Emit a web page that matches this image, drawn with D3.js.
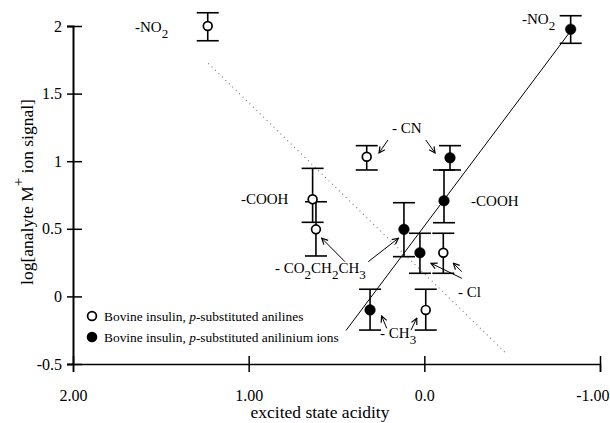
<!DOCTYPE html>
<html><head><meta charset="utf-8">
<script src="https://cdn.jsdelivr.net/npm/d3@7/dist/d3.min.js"></script>
<style>body{margin:0;background:#fff}svg{display:block}text{font-family:"Liberation Serif","Times New Roman",serif;fill:#000}</style>
</head><body>
<script>
// ---- data ----
const xTicks = [2, 1, 0, -1];
const xTickLabels = ["2.00", "1.00", "0.0", "-1.00"];
const yTicks = [2, 1.5, 1, 0.5, 0, -0.5];
const yTickLabels = ["2", "1.5", "1", "0.5", "0", "-0.5"];

const substituents = ["-NO2", "-CN", "-COOH", "-CO2CH2CH3", "-Cl", "-CH3"];
// Bovine insulin, p-substituted anilines (open circles)
const openX  = [1.233, 0.328, 0.636, 0.617, -0.108, -0.008];
const openY  = [2.000, 1.033, 0.718, 0.496, 0.323, -0.100];
const openHi = [2.098, 1.115, 0.947, 0.700, 0.467, 0.053];
const openLo = [1.891, 0.935, 0.548, 0.299, 0.171, -0.249];
// Bovine insulin, p-substituted anilinium ions (filled circles)
const fillX  = [-0.833, -0.146, -0.112, 0.116, 0.025, 0.309];
const fillY  = [1.976, 1.025, 0.708, 0.496, 0.323, -0.100];
const fillHi = [2.076, 1.115, 0.935, 0.693, 0.467, 0.053];
const fillLo = [1.872, 0.935, 0.545, 0.294, 0.171, -0.249];

const fitSolid  = [[0.446, -0.252], [-0.830, 1.958]];
const fitDotted = [[1.230, 1.724], [-0.459, -0.413]];

const legendLabels = ["Bovine insulin, ", "p", "-substituted anilines", "-substituted anilinium ions"];

// annotation labels: [x, y, parts] parts = [text, isSub]
const labels = [
  [1.647, 1.956, [["-NO", 0], ["2", 1]]],
  [-0.556, 2.015, [["-NO", 0], ["2", 1]]],
  [0.184, 1.209, [["- CN", 0]]],
  [1.044, 0.683, [["-COOH", 0]]],
  [-0.266, 0.669, [["-COOH", 0]]],
  [0.850, 0.173, [["- CO", 0], ["2", 1], ["CH", 0], ["2", 1], ["CH", 0], ["3", 1]]],
  [-0.192, -0.004, [["- Cl", 0]]],
  [0.252, -0.308, [["- CH", 0], ["3", 1]]]
];
// arrows: [x1, y1, x2, y2] in data units (tail -> head)
const arrows = [
  [0.207, 1.157, 0.258, 1.061],
  [-0.008, 1.157, -0.061, 1.061],
  [0.452, 0.257, 0.584, 0.430],
  [0.319, 0.257, 0.148, 0.430],
  [-0.213, 0.134, -0.038, 0.245],
  [-0.213, 0.183, -0.165, 0.245],
  [0.214, -0.236, 0.243, -0.145],
  [0.076, -0.249, 0.043, -0.162]
];

// ---- chart ----
const W = 610, H = 423;
const svg = d3.select("body").append("svg").attr("width", W).attr("height", H);
const x = d3.scaleLinear().domain([2, -1]).range([73, 600]);
const y = d3.scaleLinear().domain([-0.5, 2]).range([364, 26]);

svg.append("defs").append("marker")
  .attr("id", "ah").attr("viewBox", "0 0 8 8").attr("refX", 7).attr("refY", 4)
  .attr("markerWidth", 8).attr("markerHeight", 8).attr("markerUnits", "userSpaceOnUse")
  .attr("orient", "auto")
  .append("path").attr("d", "M1,1 L7,4 L1,7").attr("fill", "none").attr("stroke", "#000").attr("stroke-width", 1.2);

// axes
const yAxis = svg.append("g").attr("transform", `translate(${x(2)},0)`)
  .call(d3.axisLeft(y).tickValues(yTicks).tickFormat((d, i) => yTickLabels[i]).tickSizeOuter(0).tickSize(6).tickPadding(5));
yAxis.select(".domain").attr("stroke-width", 2);
yAxis.selectAll(".tick line").attr("x1", -6).attr("x2", 9).attr("stroke-width", 1.5);
yAxis.selectAll(".tick text").attr("x", -11).style("font-size", "16px").style("font-family", '"Liberation Serif",serif');

const xAxis = svg.append("g").attr("transform", `translate(0,${y(-0.5)})`)
  .call(d3.axisBottom(x).tickValues(xTicks).tickFormat((d, i) => xTickLabels[i]).tickSizeOuter(0).tickSize(8));
xAxis.select(".domain").attr("stroke-width", 1.5);
xAxis.selectAll(".tick line").attr("y1", -8).attr("y2", 8).attr("stroke-width", 1.5);
xAxis.selectAll(".tick text").attr("y", 26).style("font-size", "16px").style("font-family", '"Liberation Serif",serif');
xAxis.selectAll(".tick text").filter((d, i) => i === xTicks.length - 1)
  .attr("text-anchor", "end").attr("x", 9);

// axis titles
svg.append("text").attr("x", 320).attr("y", 418).attr("text-anchor", "middle")
  .style("font-size", "17.5px").text("excited state acidity");
const yl = svg.append("text").attr("transform", "translate(33,192) rotate(-90)")
  .attr("text-anchor", "middle").style("font-size", "17.5px");
yl.append("tspan").text("log[analyte M");
yl.append("tspan").attr("dy", -10).style("font-size", "15px").text("+");
yl.append("tspan").attr("dy", 10).text(" ion signal]");

// fit lines
const line = d3.line().x(d => x(d[0])).y(d => y(d[1]));
svg.append("path").attr("d", line(fitDotted)).attr("fill", "none")
  .attr("stroke", "#777").attr("stroke-width", 1.1).attr("stroke-dasharray", "1,3.8");
svg.append("path").attr("d", line(fitSolid)).attr("fill", "none")
  .attr("stroke", "#000").attr("stroke-width", 1);

// error bars + points
function series(xs, ys, his, los, filled) {
  const data = xs.map((v, i) => ({x: v, y: ys[i], hi: his[i], lo: los[i]}));
  const g = svg.append("g");
  const e = g.selectAll("g.e").data(data).join("g").attr("stroke", "#000").attr("stroke-width", 1.6);
  e.append("line").attr("x1", d => x(d.x)).attr("x2", d => x(d.x)).attr("y1", d => y(d.hi)).attr("y2", d => y(d.lo));
  e.append("line").attr("x1", d => x(d.x) - 11).attr("x2", d => x(d.x) + 11).attr("y1", d => y(d.hi)).attr("y2", d => y(d.hi));
  e.append("line").attr("x1", d => x(d.x) - 11).attr("x2", d => x(d.x) + 11).attr("y1", d => y(d.lo)).attr("y2", d => y(d.lo));
  g.selectAll("circle").data(data).join("circle")
    .attr("cx", d => x(d.x)).attr("cy", d => y(d.y))
    .attr("r", filled ? 5.3 : 4.4)
    .attr("fill", filled ? "#000" : "#fff").attr("stroke", "#000").attr("stroke-width", filled ? 0.5 : 1.7);
}
series(openX, openY, openHi, openLo, false);
series(fillX, fillY, fillHi, fillLo, true);

// annotations
labels.forEach(([lx, ly, parts]) => {
  const t = svg.append("text").attr("x", x(lx)).attr("y", y(ly)).style("font-size", "15px");
  let sub = false;
  parts.forEach(([s, isSub]) => {
    const dy = isSub && !sub ? 6 : (!isSub && sub ? -6 : 0);
    t.append("tspan").attr("dy", dy).style("font-size", isSub ? "13px" : "15px").text(s);
    sub = !!isSub;
  });
});
svg.append("g").selectAll("line").data(arrows).join("line")
  .attr("x1", d => x(d[0])).attr("y1", d => y(d[1])).attr("x2", d => x(d[2])).attr("y2", d => y(d[3]))
  .attr("stroke", "#000").attr("stroke-width", 1).attr("marker-end", "url(#ah)");

// legend
const lg = svg.append("g");
lg.append("circle").attr("cx", 92).attr("cy", 316).attr("r", 4.4).attr("fill", "#fff").attr("stroke", "#000").attr("stroke-width", 1.7);
lg.append("circle").attr("cx", 92).attr("cy", 337).attr("r", 5.3).attr("fill", "#000");
[[321, legendLabels[2]], [342, legendLabels[3]]].forEach(([ty, tail]) => {
  const t = lg.append("text").attr("x", 104).attr("y", ty).style("font-size", "13.4px");
  t.append("tspan").text(legendLabels[0]);
  t.append("tspan").style("font-style", "italic").text(legendLabels[1]);
  t.append("tspan").text(tail);
});
</script>
</body></html>
